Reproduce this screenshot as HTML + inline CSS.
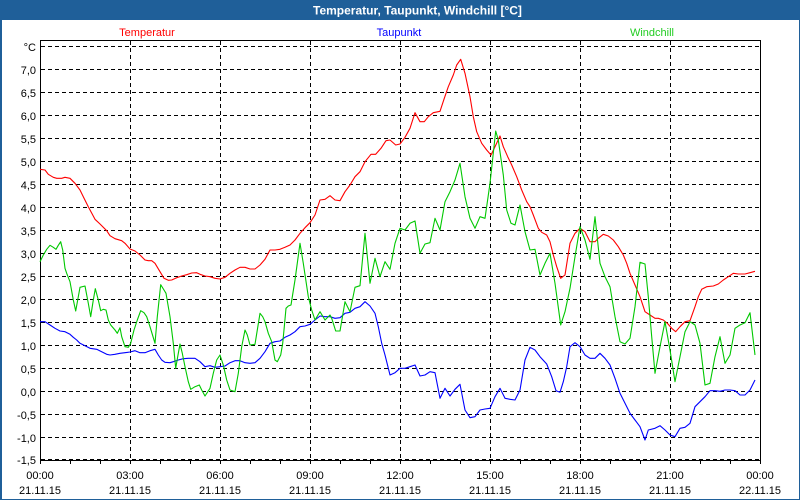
<!DOCTYPE html>
<html>
<head>
<meta charset="utf-8">
<style>
  html, body { margin:0; padding:0; background:#ffffff; }
  #wrap { position:relative; width:800px; height:500px; overflow:hidden; background:#ffffff; }
  svg { position:absolute; left:0; top:0; }
  text { font-family:"Liberation Sans", Arial, sans-serif; }
</style>
</head>
<body>
<div id="wrap">
<svg width="800" height="500" viewBox="0 0 800 500" xmlns="http://www.w3.org/2000/svg">
  <!-- window chrome -->
  <rect x="0" y="0" width="800" height="20" fill="#1f5f99"/>
  <rect x="0" y="0" width="2" height="500" fill="#1f5f99"/>
  <rect x="799" y="0" width="1" height="500" fill="#1f5f99"/>
  <rect x="0" y="499" width="800" height="1" fill="#1f5f99"/>
  <text x="313" y="14.5" font-size="12" font-weight="bold" fill="#ffffff">Temperatur, Taupunkt, Windchill [°C]</text>

  <!-- legend labels -->
  <text x="147" y="36" font-size="11" fill="#ff0000" text-anchor="middle">Temperatur</text>
  <text x="399" y="36" font-size="11" fill="#0000ff" text-anchor="middle">Taupunkt</text>
  <text x="652" y="36" font-size="11" fill="#22cc22" text-anchor="middle">Windchill</text>

  <!-- horizontal dashed grid -->
  <g stroke="#000" stroke-width="1" stroke-dasharray="4 3" shape-rendering="crispEdges" fill="none">
    <line x1="41" y1="46.5" x2="760" y2="46.5"/>
    <line x1="41" y1="69.5" x2="760" y2="69.5"/>
    <line x1="41" y1="92.5" x2="760" y2="92.5"/>
    <line x1="41" y1="115.5" x2="760" y2="115.5"/>
    <line x1="41" y1="138.5" x2="760" y2="138.5"/>
    <line x1="41" y1="161.5" x2="760" y2="161.5"/>
    <line x1="41" y1="184.5" x2="760" y2="184.5"/>
    <line x1="41" y1="207.5" x2="760" y2="207.5"/>
    <line x1="41" y1="230.5" x2="760" y2="230.5"/>
    <line x1="41" y1="253.5" x2="760" y2="253.5"/>
    <line x1="41" y1="276.5" x2="760" y2="276.5"/>
    <line x1="41" y1="299.5" x2="760" y2="299.5"/>
    <line x1="41" y1="322.5" x2="760" y2="322.5"/>
    <line x1="41" y1="345.5" x2="760" y2="345.5"/>
    <line x1="41" y1="368.5" x2="760" y2="368.5"/>
    <line x1="41" y1="391.5" x2="760" y2="391.5"/>
    <line x1="41" y1="414.5" x2="760" y2="414.5"/>
    <line x1="41" y1="437.5" x2="760" y2="437.5"/>
    <line x1="41" y1="459.5" x2="760" y2="459.5"/>
  </g>
  <!-- vertical dashed grid -->
  <g stroke="#000" stroke-width="1" stroke-dasharray="4 3" shape-rendering="crispEdges" fill="none">
    <line x1="130.5" y1="41" x2="130.5" y2="460"/>
    <line x1="220.5" y1="41" x2="220.5" y2="460"/>
    <line x1="310.5" y1="41" x2="310.5" y2="460"/>
    <line x1="400.5" y1="41" x2="400.5" y2="460"/>
    <line x1="490.5" y1="41" x2="490.5" y2="460"/>
    <line x1="580.5" y1="41" x2="580.5" y2="460"/>
    <line x1="670.5" y1="41" x2="670.5" y2="460"/>
  </g>

  <!-- frame -->
  <rect x="40.5" y="40.5" width="720" height="420" fill="none" stroke="#000" stroke-width="1" shape-rendering="crispEdges"/>

  <!-- ticks -->
  <g stroke="#000" stroke-width="1" shape-rendering="crispEdges">
    <line x1="40.5" y1="460" x2="40.5" y2="464"/>
    <line x1="70.5" y1="460" x2="70.5" y2="464"/>
    <line x1="100.5" y1="460" x2="100.5" y2="464"/>
    <line x1="130.5" y1="460" x2="130.5" y2="464"/>
    <line x1="160.5" y1="460" x2="160.5" y2="464"/>
    <line x1="190.5" y1="460" x2="190.5" y2="464"/>
    <line x1="220.5" y1="460" x2="220.5" y2="464"/>
    <line x1="250.5" y1="460" x2="250.5" y2="464"/>
    <line x1="280.5" y1="460" x2="280.5" y2="464"/>
    <line x1="310.5" y1="460" x2="310.5" y2="464"/>
    <line x1="340.5" y1="460" x2="340.5" y2="464"/>
    <line x1="370.5" y1="460" x2="370.5" y2="464"/>
    <line x1="400.5" y1="460" x2="400.5" y2="464"/>
    <line x1="430.5" y1="460" x2="430.5" y2="464"/>
    <line x1="460.5" y1="460" x2="460.5" y2="464"/>
    <line x1="490.5" y1="460" x2="490.5" y2="464"/>
    <line x1="520.5" y1="460" x2="520.5" y2="464"/>
    <line x1="550.5" y1="460" x2="550.5" y2="464"/>
    <line x1="580.5" y1="460" x2="580.5" y2="464"/>
    <line x1="610.5" y1="460" x2="610.5" y2="464"/>
    <line x1="640.5" y1="460" x2="640.5" y2="464"/>
    <line x1="670.5" y1="460" x2="670.5" y2="464"/>
    <line x1="700.5" y1="460" x2="700.5" y2="464"/>
    <line x1="730.5" y1="460" x2="730.5" y2="464"/>
    <line x1="760.5" y1="460" x2="760.5" y2="464"/>
  </g>

  <!-- y labels -->
  <g font-size="11" fill="#000" text-anchor="end">
    <text x="36" y="51">°C</text>
    <text x="36" y="74">7,0</text>
    <text x="36" y="97">6,5</text>
    <text x="36" y="120">6,0</text>
    <text x="36" y="143">5,5</text>
    <text x="36" y="166">5,0</text>
    <text x="36" y="189">4,5</text>
    <text x="36" y="212">4,0</text>
    <text x="36" y="235">3,5</text>
    <text x="36" y="258">3,0</text>
    <text x="36" y="281">2,5</text>
    <text x="36" y="304">2,0</text>
    <text x="36" y="327">1,5</text>
    <text x="36" y="350">1,0</text>
    <text x="36" y="373">0,5</text>
    <text x="36" y="396">0,0</text>
    <text x="36" y="419">-0,5</text>
    <text x="36" y="442">-1,0</text>
    <text x="36" y="464">-1,5</text>
  </g>

  <!-- x labels -->
  <g font-size="11" fill="#000" text-anchor="middle">
    <text x="40" y="479">00:00</text><text x="40" y="494">21.11.15</text>
    <text x="130" y="479">03:00</text><text x="130" y="494">21.11.15</text>
    <text x="220" y="479">06:00</text><text x="220" y="494">21.11.15</text>
    <text x="310" y="479">09:00</text><text x="310" y="494">21.11.15</text>
    <text x="400" y="479">12:00</text><text x="400" y="494">21.11.15</text>
    <text x="490" y="479">15:00</text><text x="490" y="494">21.11.15</text>
    <text x="580" y="479">18:00</text><text x="580" y="494">21.11.15</text>
    <text x="670" y="479">21:00</text><text x="670" y="494">21.11.15</text>
    <text x="760" y="479">00:00</text><text x="760" y="494">22.11.15</text>
  </g>

  <!-- Temperatur -->
  <polyline fill="none" stroke="#ff0000" stroke-width="1.1" stroke-linejoin="round"
    points="40,169.3 45,170 48.3,174.3 53.3,177.3 56.7,178.3 61.7,178.3 65,177.3 70,178.3 75,183.3 80,190 83.3,196.7 88.3,206.7 95,219.3 100,224 106.7,230.7 110,235.7 115,238.7 121.7,240.7 125,243.3 130,249 135,251 140,255 145,260 148.3,260.7 151.7,260.7 155,263.3 160,271.7 164,278.3 168.3,280.3 171.7,280 176.7,277.7 181.7,276 186.7,274.7 191.7,273 196.7,272.7 200,274.3 205,276 210,276.7 215,278.3 220,279 225,277.3 230,273.3 235,270 240,267.3 245,267.3 250,269 255,269 260,265 265,259.3 270,250 275,250 280,249.3 285,247.3 290,245 295,240 300,233.3 305,227.7 310,222.7 315,215 320,200 325,199.3 330,195.7 335,200 340,200.7 345,191.7 350,185 355,176.7 360,171.7 365,161.7 371,154.3 375.7,154.3 381,148.3 386,140.7 390,140 395.7,145 400,144 405,137.3 410,128.3 415,112.7 420,121.7 424.3,121.7 428.3,116.7 433.3,112.7 440,111.3 444.3,98.3 448.3,86.7 453.3,75 456.7,65 460.7,59.3 465,73.3 470,96.7 473.3,116.7 476.7,131.7 481.7,143.3 486.7,150 491,155 495,146.7 500,136 503.3,146.7 507.7,156.7 511.7,165 516.7,176.7 521.7,190 526.7,201.7 530,206.7 533.3,215 538.3,228.3 541.7,232.3 546.7,235 550,241.7 553.3,255 556.7,266.7 560.7,278.3 565,275 570,243.3 575,233.3 580,228.3 585,231.7 590,241.7 595,241.7 598.3,238.3 603.3,234.3 608.3,236 613.3,240 618.3,246.7 623.3,255 626.7,263.3 630,273.3 635,285 640,296.7 645,311.7 650,315 655,318.3 658.3,318.3 663.3,320 667.3,323.3 671.7,328.3 675.7,331.7 680,326.7 685,321.7 690,320.7 695,306.7 698.3,296.7 701.7,289.3 706.7,286.7 713.3,286 718.3,284 723.3,280 728.3,276.7 733.3,273.3 738.3,274 745,274 750,272.7 755,271.3"/>

  <!-- Taupunkt -->
  <polyline fill="none" stroke="#0000ff" stroke-width="1.1" stroke-linejoin="round"
    points="40,321.7 45,321.7 50,325 55,328.3 60,331 65,331.7 70,334.3 73.3,337.3 76.7,340 80,343.3 85,345.7 90,348.3 96.7,349.3 101.7,351.7 106.7,354.3 110,355 115,354.3 120,353.3 125,352.7 130,352 135,350.7 140,352.7 145,352.7 150,350.7 155,349.3 158.3,355 161.7,360 165,362.3 170,362.7 173.3,361.7 178.3,360 183.3,358.7 188.3,358.3 195,358.3 200,361.7 205,366.7 210,365.7 215,367.3 220,366.7 225,366 230,362.7 235,360.7 240,360.7 245,362.7 250,363.3 255,362.7 260,358.3 265,351.7 270,343.3 275,341.7 280,341 285,337.3 290,335 295,331.7 300,326.7 305,326 310,324.3 315,320 320,316 325,316.7 330,316.7 335,318.3 340,317.7 345,313.3 350,312.3 355,308.3 360,306.7 365,301.7 370,306 375,313.3 378.3,326.7 381.7,343.3 385,355 390,375 395,372.7 400,368.3 405,368.3 410,366.7 415,365 420,376 425,375 430,371.7 435,372.7 440,398.3 445,388.3 450,396 455,389.3 460,384.3 465,410 470,417.7 475,416.7 480,410 485,409 490,408.3 495,396.7 500,388.3 505,398.3 510,399.3 515,400 520,390 525,360 530,347.3 535,350 540,356.7 546.7,364 551.7,376.7 556,390.7 560,392.3 563.3,381.7 566.7,366.7 570,346.7 575,342.7 580,346.7 585,355 590,358.3 595,358.3 600,353.3 605,358.3 610,365 615,378.3 620,393.3 625,403.3 630,413.3 635,420 640,426.7 645,440 648.3,430 655,428.3 660,425.7 665,430 670,435 675,436.7 680,428.3 685,427.3 690,423.3 695,406.7 700,401.7 705,396.7 710,390.7 715,390.7 720,391.3 725,390 730,390 735,390.7 740,395 745,395 750,390 755,380"/>

  <!-- Windchill -->
  <polyline fill="none" stroke="#00c800" stroke-width="1.1" stroke-linejoin="round"
    points="40,261.7 43.3,255 46.7,249.3 50,245.3 53.3,247.3 56,249.3 58.3,245.3 60.7,241.7 62.7,250 65,268.3 66.7,273.3 70,281.7 73.3,300 75.7,311 78.3,296.7 80,287.3 85,286 88.3,303.3 90.7,316.7 93.3,300 95.3,288.7 98.3,300 100.7,310.7 103.3,309.3 106,310 108.3,320 110.7,325 115,330 117.3,333.3 120,327.7 121.7,336.7 125,346.7 128.3,347.3 130.7,343.3 134,330 137.3,320 140.7,310.7 144,312.7 146.7,316.7 150,326.7 155,343.3 157.3,316.7 160.7,284.7 164,290 166,293.3 170,316.7 173.3,343.3 175.7,368.3 178,355 180,344 182.3,353.3 185,366.7 188.3,381.7 190.7,389.3 195,386.7 199.3,385 201.7,390 205,396 210,388.3 213.3,373.3 216.7,360 220,355 223.3,365 226.7,380 230,390 235,391.7 238.3,373.3 241.7,346.7 245,330 247.3,335 250,345 255,344.3 257.3,330 260,313.3 262.7,316.7 265,321.7 268.3,333.3 271.7,341.7 275,360 277.3,361.7 280.7,355 282.7,343.3 284.3,326.7 286,308.3 288.3,306 291,305 295,280 300,243.3 303.3,263.3 308.3,296.7 311.7,310 315,320 320,311.7 325,320 330,315 331.7,318.3 335.7,331 340,331 345,301.7 350,311.7 355,287.3 360,285.7 365,233.3 370,283.3 375,258.3 380,276.7 385,261.7 390,269.3 395,243.3 400,228.3 405,230 410,223.3 415,221 420,253.3 425,244 430,242.7 435,218.3 440,230 445,201.7 450,191.7 455,180 460,163.3 465,196.7 470,218.3 475,228.3 480,216.7 485,218.3 490,183.3 495.7,131 498.3,140 503.3,175 506.7,210 511,223.3 515,225 520,205 525,231.7 530,250 535,249.3 540,275 545,263.3 550,253.3 555,283.3 560.7,325 565,311.7 570,288.3 575,256.7 580,226.7 585,240 590,259.3 595,216.7 600,263.3 605,276.7 610,286.7 615,316.7 620,341.7 625,344 630,338.3 635,306.7 640,262.3 645,264 648.3,296.7 651.7,336.7 655,373.3 660,346.7 665,321.7 670,350 675,381.7 680,356.7 685,331.7 690,321.7 695,325 700,343.3 705,385 710,383.3 715,356.7 720,336.7 725,363.3 730,355 735,328.3 740,325 745,322.7 750,312.7 755,355"/>
</svg>
</div>
</body>
</html>
